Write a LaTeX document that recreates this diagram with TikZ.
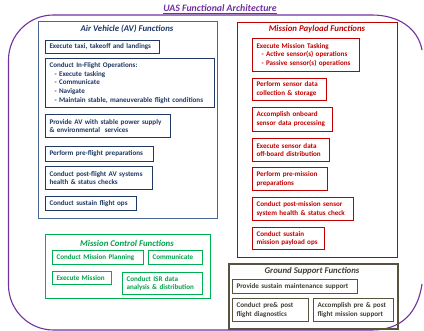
\documentclass[tikz,border=0pt]{standalone}
\usepackage{fontspec}
\setmainfont{Carlito}[BoldFont={Carlito Bold}, ItalicFont={Carlito Italic}, BoldItalicFont={Carlito Bold Italic}]
\definecolor{purp}{HTML}{7030A0}
\definecolor{avout}{HTML}{4A6896}
\definecolor{avin}{HTML}{1F3864}
\definecolor{mpred}{HTML}{C00000}
\definecolor{mcgreen}{HTML}{00B050}
\definecolor{mctext}{HTML}{00A04A}
\definecolor{gsline}{HTML}{57533F}
\definecolor{gstext}{HTML}{3F3D33}
\newcommand{\mybox}[7]{%
  \pgfmathsetmacro\bw{#4-#2}\pgfmathsetmacro\bh{#5-#3}\pgfmathsetmacro\tw{#4-#2-8}%
  \node[#6, anchor=north west, minimum width=\bw pt, minimum height=\bh pt, text width=\tw pt] (#1) at (#2,#3) {#7};}
\newcommand{\grp}[6]{%
  \pgfmathsetmacro\bw{#4-#2}\pgfmathsetmacro\bh{#5-#3}%
  \node[#6, anchor=north west, minimum width=\bw pt, minimum height=\bh pt] (#1) at (#2,#3) {};}
\begin{document}
\begin{tikzpicture}[x=1pt,y=-1pt,
  inbox/.style={draw, line width=1pt, inner xsep=4pt, inner ysep=0.5pt, align=left,
    font=\fontsize{7.1}{8.8}\selectfont\bfseries},
  avb/.style={inbox, draw=avin, text=avin},
  mpb/.style={inbox, draw=mpred, text=mpred},
  mcb/.style={inbox, draw=mcgreen, text=mctext},
  gsb/.style={inbox, draw=gsline, text=gstext},
  grpbox/.style={draw, line width=1.2pt, inner sep=0pt},
  ttl/.style={font=\fontsize{8.8}{9}\selectfont\bfseries\itshape, inner sep=0pt}
]
\useasboundingbox (0,0) rectangle (424,331);
% outer purple frame (its right side runs past the picture's edge)
\draw[purp, line width=1.1pt] (422,50) .. controls (418,28) and (398,15) .. (372,15) -- (53.5,15)
  .. controls (28.6,15) and (8.5,35.1) .. (8.5,60) -- (8.5,285)
  .. controls (8.5,309.9) and (28.6,330) .. (53.5,330) -- (372,330)
  .. controls (402,330) and (418,312) .. (422,284);
\node[font=\fontsize{9.8}{10}\selectfont\bfseries\itshape, text=purp, inner sep=0pt, anchor=base] (title) at (220,12) {UAS Functional Architecture};
\draw[purp, line width=0.6pt] ([yshift=-1.2pt]title.base west) -- ([yshift=-1.2pt]title.base east);

% Air Vehicle
\grp{av}{38}{21}{217}{218}{grpbox, draw=avout}
\node[ttl, text=avin] (avt) at (127,29) {Air Vehicle (AV) Functions};
\mybox{av1}{45}{40}{159}{53}{avb}{Execute taxi, takeoff and landings}
\mybox{av2}{45}{58}{214}{107}{avb}{Conduct In-Flight Operations:\\
\hspace*{5pt}- Execute tasking\\
\hspace*{5pt}- Communicate\\
\hspace*{5pt}- Navigate\\
\hspace*{5pt}- Maintain stable, maneuverable flight conditions}
\mybox{av3}{45}{114}{170}{137}{avb}{Provide AV with stable power supply\\\& environmental\ \ services}
\mybox{av4}{45}{146}{153}{161}{avb}{Perform pre-flight preparations}
\mybox{av5}{45}{166}{152}{189}{avb}{Conduct post-flight AV systems\\health \& status checks}
\mybox{av6}{45}{196}{136}{210}{avb}{Conduct sustain flight ops}

% Mission Payload
\grp{mp}{237}{22}{397}{257}{grpbox, draw=mpred}
\node[ttl, text=mpred] (mpt) at (317,29) {Mission Payload Functions};
\mybox{mp1}{252}{38}{359}{71}{mpb}{Execute Mission Tasking\\
\hspace*{5pt}- Active sensor(s) operations\\
\hspace*{5pt}- Passive sensor(s) operations}
\mybox{mp2}{252}{78}{326}{100}{mpb}{Perform sensor data\\collection \& storage}
\mybox{mp3}{252}{107}{332}{131}{mpb}{Accomplish onboard\\sensor data processing}
\mybox{mp4}{252}{138}{329}{161}{mpb}{Execute sensor data\\off-board distribution}
\mybox{mp5}{252}{167}{327}{190}{mpb}{Perform pre-mission\\preparations}
\mybox{mp6}{252}{197}{353}{220}{mpb}{Conduct post-mission sensor\\system health \& status check}
\mybox{mp7}{252}{227}{324}{249}{mpb}{Conduct sustain\\mission payload ops}

% Mission Control
\grp{mc}{45}{234}{210}{298}{grpbox, draw=mcgreen}
\node[ttl, text=mctext] (mct) at (127,243) {Mission Control Functions};
\mybox{mc1}{52}{250}{143}{264}{mcb}{Conduct Mission Planning}
\mybox{mc2}{148}{250}{202}{264}{mcb}{Communicate}
\mybox{mc3}{52}{271}{111}{284}{mcb}{Execute Mission}
\mybox{mc4}{122}{272}{202}{294}{mcb}{Conduct ISR data\\analysis \& distribution}

% Ground Support
\grp{gs}{228}{263}{397}{328}{grpbox, draw=gsline, line width=1.6pt}
\node[ttl, text=gstext] (gst) at (312,271) {Ground Support Functions};
\mybox{gs1}{232}{279}{357}{293}{gsb}{Provide sustain maintenance support}
\mybox{gs2}{232}{298}{308}{321}{gsb}{Conduct pre\& post\\flight diagnostics}
\mybox{gs3}{313}{298}{393}{321}{gsb}{Accomplish pre \& post\\flight mission support}
\end{tikzpicture}
\end{document}
